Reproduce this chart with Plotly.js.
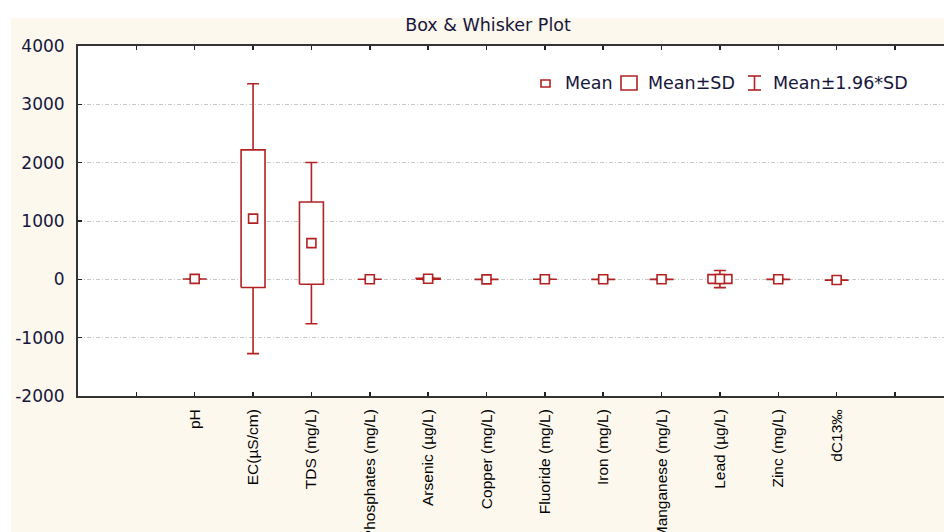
<!DOCTYPE html>
<html>
<head>
<meta charset="utf-8">
<script src="https://cdn.plot.ly/plotly-3.0.1.min.js"></script>
<style>html,body{margin:0;padding:0;overflow:hidden;background:#fff}</style>
</head>
<body>
<div id="chart" style="width:944px;height:532px"></div>
<script>
// ---- data ----
const categories = ['pH', 'EC(µS/cm)', 'TDS (mg/L)', 'Phosphates (mg/L)', 'Arsenic (µg/L)', 'Copper (mg/L)',
                    'Fluoride (mg/L)', 'Iron (mg/L)', 'Manganese (mg/L)', 'Lead (µg/L)', 'Zinc (mg/L)', 'dC13‰'];
const means = [7.2, 1040, 620, 0.6, 9, 0.08, 1.1, 0.4, 0.15, 5, 0.3, -11];
const sds   = [0.5, 1180, 705, 0.4, 7, 0.05, 0.6, 0.3, 0.1, 75, 0.2, 2.5];
const yTicks = [-2000, -1000, 0, 1000, 2000, 3000, 4000];
const legendLabels = ['Mean', 'Mean±SD', 'Mean±1.96*SD'];
const titleText = 'Box & Whisker Plot';

// ---- styling ----
const RED = '#b22222';
const TXT = '#16163c';
const CREAM = '#fcf8ee';
const boxHalf = 0.205;   // half box width in category units

const positions = categories.map((_, i) => i + 1);

// whiskers: mean ± 1.96*SD
const whiskers = {
  type: 'scatter', mode: 'markers', x: positions, y: means,
  marker: {size: 1, opacity: 0},
  error_y: {type: 'data', symmetric: true, array: sds.map(s => 1.96 * s),
            width: 6, thickness: 1.6, color: RED},
  hoverinfo: 'skip', showlegend: false
};

// boxes: mean ± SD
const bx = [], by = [];
positions.forEach((p, i) => {
  const lo = means[i] - sds[i], hi = means[i] + sds[i];
  bx.push(p - boxHalf, p + boxHalf, p + boxHalf, p - boxHalf, p - boxHalf, null);
  by.push(lo, lo, hi, hi, lo, null);
});
const boxes = {
  type: 'scatter', mode: 'lines', x: bx, y: by, fill: 'toself', fillcolor: '#ffffff',
  line: {color: RED, width: 1.6}, hoverinfo: 'skip', showlegend: false
};

// means
const meanPts = {
  type: 'scatter', mode: 'markers', x: positions, y: means,
  marker: {symbol: 'square', size: 9, color: '#ffffff', line: {color: RED, width: 1.6}},
  showlegend: false
};

// pixel -> paper helpers for decorations (plot area 78..944 x 46..396)
const L = 78, R = 944, T = 46, B = 396;
const px = x => (x - L) / (R - L);
const py = y => (B - y) / (B - T);

const shapes = [
  // white margins of the original image
  {type: 'rect', xref: 'paper', yref: 'paper', x0: px(-5), x1: px(11), y0: py(540), y1: py(-5),
   fillcolor: '#ffffff', line: {width: 0}, layer: 'below'},
  {type: 'rect', xref: 'paper', yref: 'paper', x0: px(-5), x1: px(950), y0: py(18), y1: py(-5),
   fillcolor: '#ffffff', line: {width: 0}, layer: 'below'},
  // legend symbols
  {type: 'rect', xref: 'paper', yref: 'paper', x0: px(541), x1: px(550), y0: py(87), y1: py(80),
   line: {color: RED, width: 1.6}, fillcolor: 'rgba(0,0,0,0)'},
  {type: 'rect', xref: 'paper', yref: 'paper', x0: px(621), x1: px(637), y0: py(90), y1: py(76),
   line: {color: RED, width: 1.6}, fillcolor: 'rgba(0,0,0,0)'},
  {type: 'line', xref: 'paper', yref: 'paper', x0: px(754.5), x1: px(754.5), y0: py(90), y1: py(76),
   line: {color: RED, width: 1.6}},
  {type: 'line', xref: 'paper', yref: 'paper', x0: px(748), x1: px(761), y0: py(76), y1: py(76),
   line: {color: RED, width: 1.6}},
  {type: 'line', xref: 'paper', yref: 'paper', x0: px(748), x1: px(761), y0: py(90), y1: py(90),
   line: {color: RED, width: 1.6}}
];

const legendX = [563, 646, 771];
const annotations = legendLabels.map((t, i) => ({
  text: t, xref: 'paper', yref: 'paper', x: px(legendX[i]), y: py(83.5),
  xanchor: 'left', yanchor: 'middle', showarrow: false,
  font: {family: 'DejaVu Sans, sans-serif', size: 17.5, color: TXT}
}));

const layout = {
  width: 944, height: 532,
  margin: {l: L, r: 0, t: T, b: 532 - B, pad: 0},
  paper_bgcolor: CREAM, plot_bgcolor: '#ffffff',
  title: {text: titleText, x: 488 / 944, xref: 'container', xanchor: 'center',
          y: 1 - 25 / 532, yref: 'container', yanchor: 'middle',
          font: {family: 'DejaVu Sans, sans-serif', size: 17.5, color: TXT}},
  showlegend: false,
  xaxis: {
    range: [-1, 13.84], tickmode: 'array',
    tickvals: [0, ...positions, categories.length + 1],
    ticktext: ['', ...categories, ''],
    tickangle: -90, ticks: 'inside', ticklen: 4, tickwidth: 1.5, tickcolor: '#222',
    showline: true, linecolor: '#333', linewidth: 2, mirror: 'ticks',
    showgrid: false, zeroline: false, ticklabelstandoff: 5,
    tickfont: {family: 'Liberation Sans, Arial, sans-serif', size: 15.5, color: '#000'}
  },
  yaxis: {
    range: [-2000, 4000], tickmode: 'array', tickvals: yTicks, ticktext: yTicks.map(String),
    ticks: 'inside', ticklen: 4, tickwidth: 1.5, tickcolor: '#222',
    showline: true, linecolor: '#333', linewidth: 2, mirror: false,
    showgrid: true, gridcolor: '#c8c8c8', gridwidth: 1, griddash: '4px,2px,1px,2px',
    zeroline: false, ticklabelstandoff: 8,
    tickfont: {family: 'DejaVu Sans, sans-serif', size: 17, color: TXT}
  },
  shapes: shapes,
  annotations: annotations
};

Plotly.newPlot('chart', [whiskers, boxes, meanPts], layout, {displayModeBar: false, staticPlot: true});
</script>
</body>
</html>
